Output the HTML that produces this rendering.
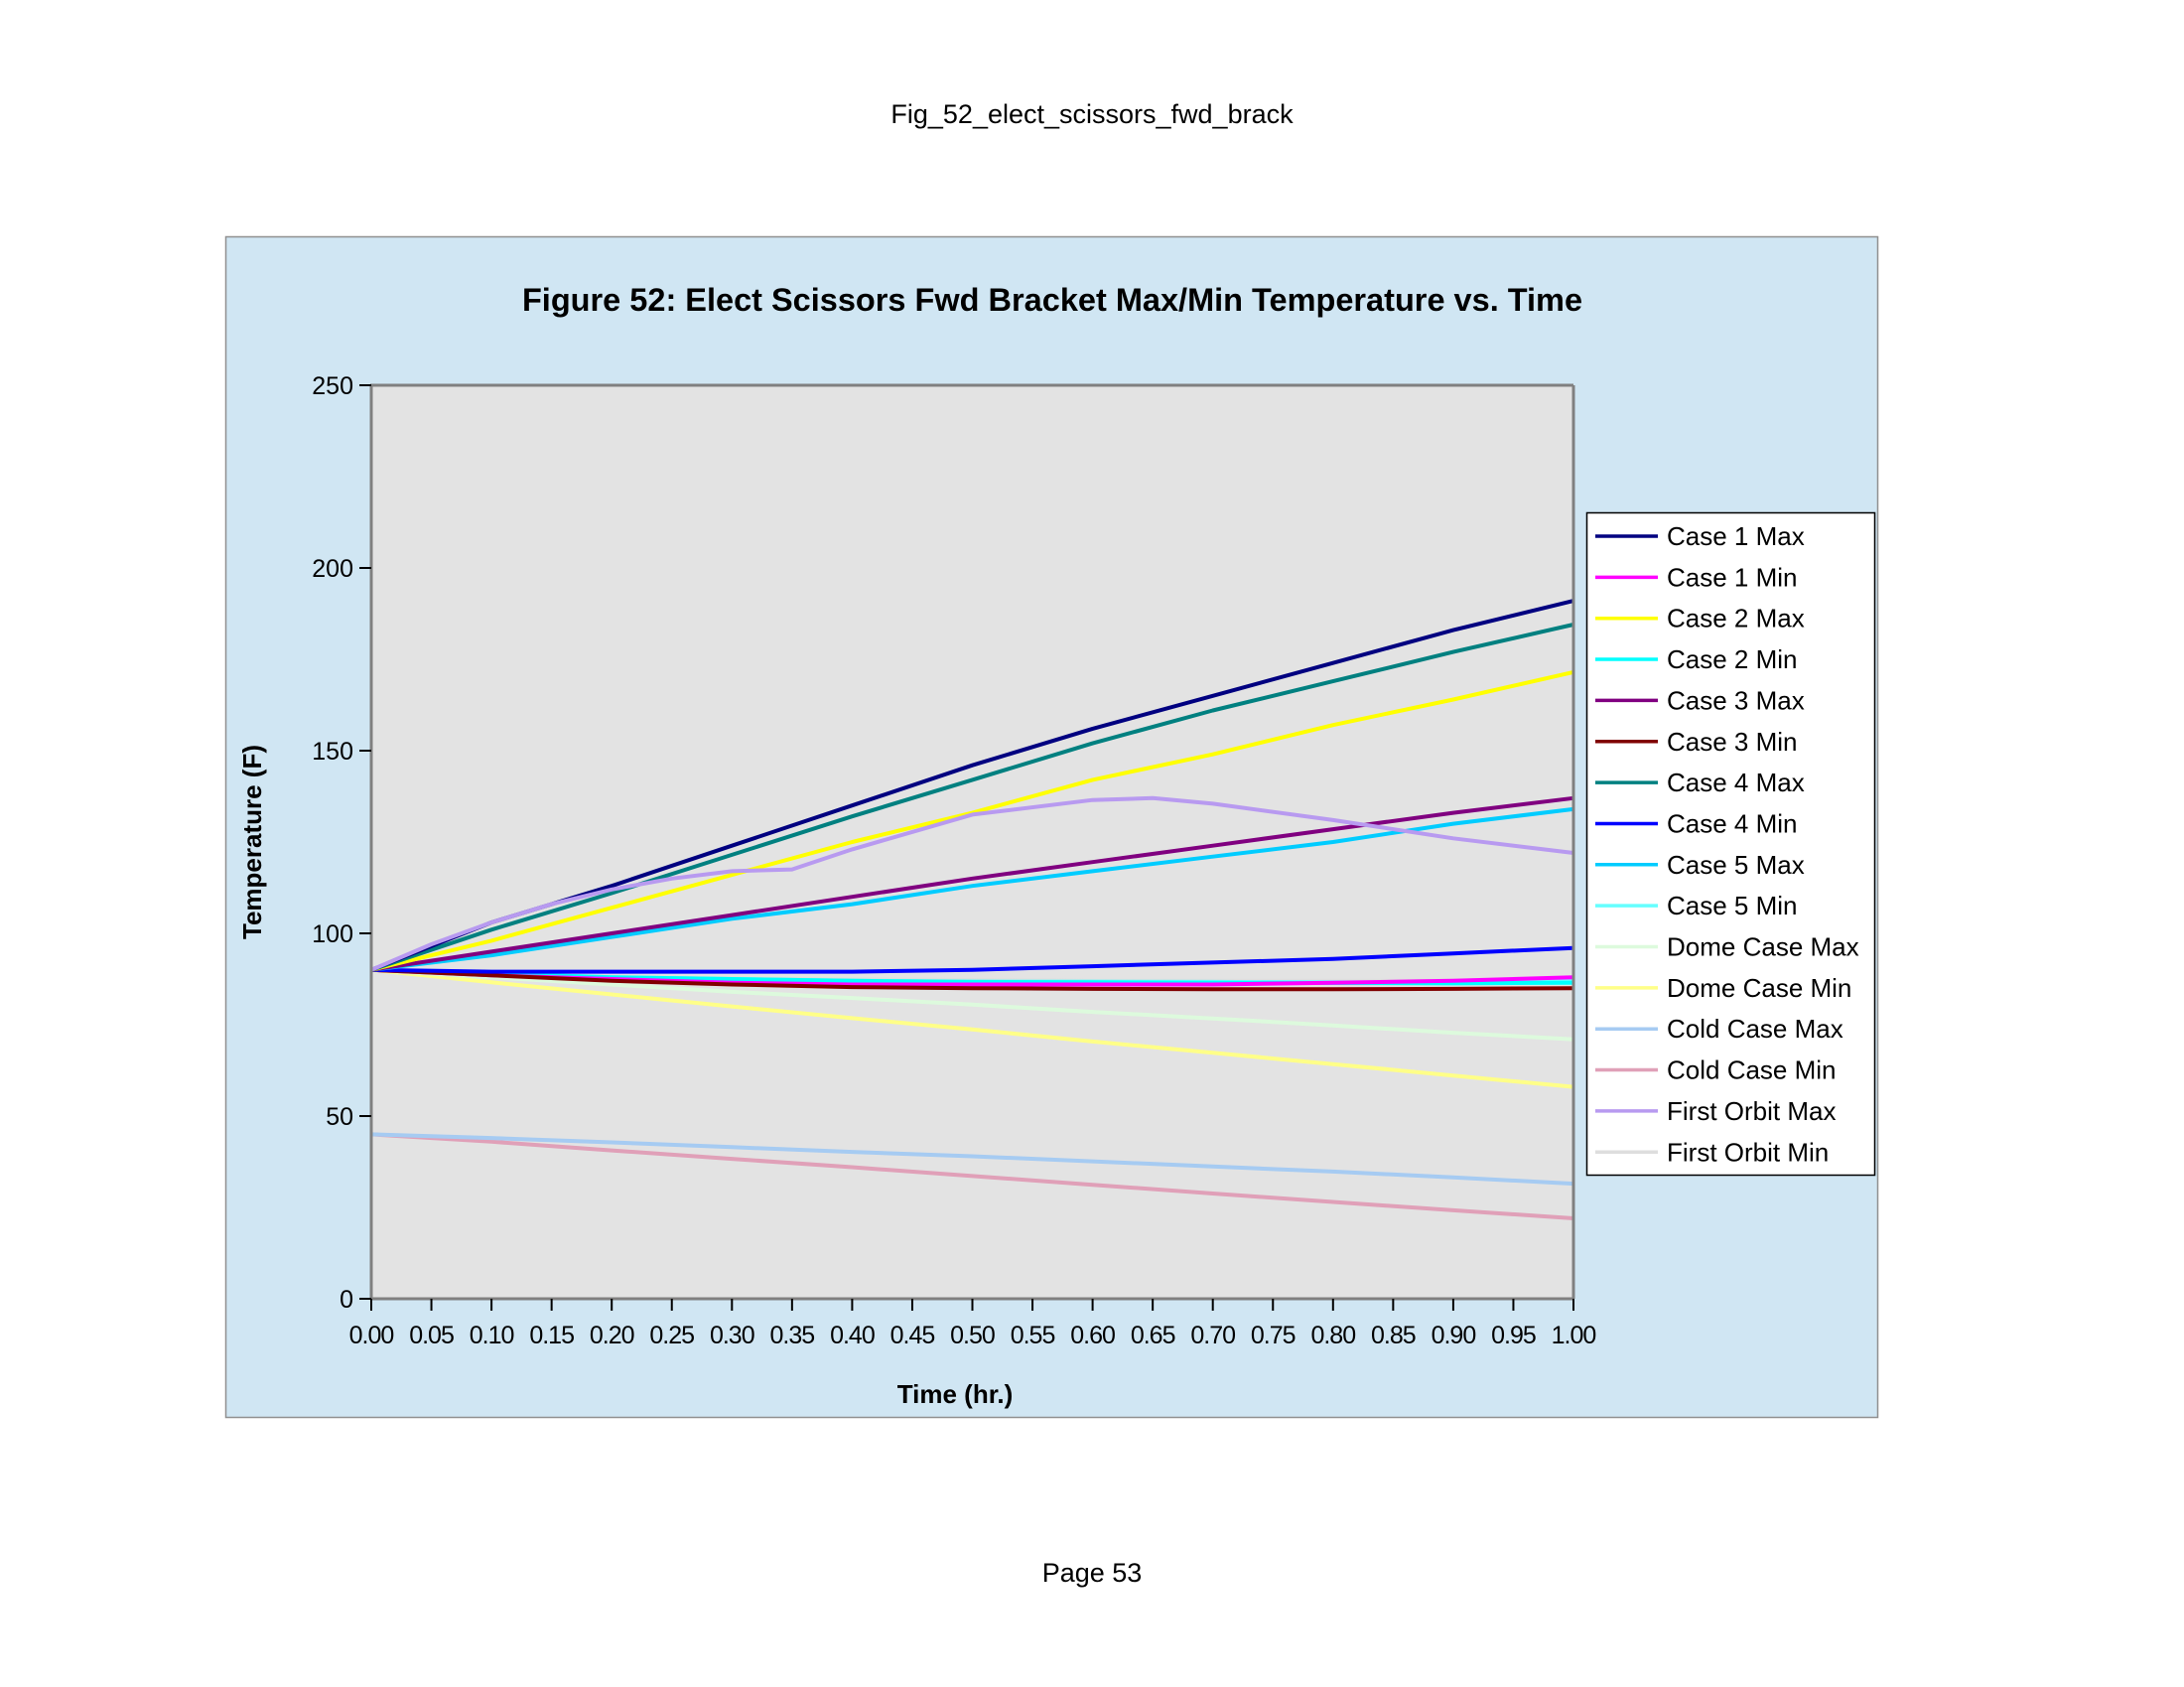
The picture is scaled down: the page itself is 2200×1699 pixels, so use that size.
<!DOCTYPE html>
<html><head><meta charset="utf-8"><style>
html,body{margin:0;padding:0;background:#fff;}
svg{display:block;font-family:"Liberation Sans",sans-serif;}
</style></head><body>
<svg id="c" width="2200" height="1699" xmlns="http://www.w3.org/2000/svg">
<text x="1100" y="124" text-anchor="middle" font-size="27">Fig_52_elect_scissors_fwd_brack</text>
<text x="1100" y="1593" text-anchor="middle" font-size="27">Page 53</text>
<rect x="227.5" y="238.5" width="1664" height="1189" fill="#d0e6f3" stroke="#909090" stroke-width="1.5"/>
<text x="1060" y="313" text-anchor="middle" font-size="32.5" font-weight="bold">Figure 52: Elect Scissors Fwd Bracket Max/Min Temperature vs. Time</text>
<rect x="373" y="388" width="1212" height="920" fill="#e3e3e3"/>
<g id="grid"></g>
<g id="series"></g>
<line x1="373" y1="388" x2="1585" y2="388" stroke="#808080" stroke-width="3"/>
<line x1="1585" y1="388" x2="1585" y2="1308" stroke="#808080" stroke-width="3"/>
<line x1="374" y1="388" x2="374" y2="1308" stroke="#808080" stroke-width="3"/>
<line x1="373" y1="1308" x2="1585" y2="1308" stroke="#808080" stroke-width="3"/>
<g id="ticks"></g>
<text x="962" y="1413" text-anchor="middle" font-size="26" font-weight="bold">Time (hr.)</text>
<text transform="translate(263,848) rotate(-90)" text-anchor="middle" font-size="26" font-weight="bold">Temperature (F)</text>
<rect x="1598.5" y="516.5" width="290" height="667" fill="#fff" stroke="#000" stroke-width="1.5"/>
<g id="legend"></g>
</svg>
<script>
const times=[0,0.1,0.2,0.3,0.4,0.5,0.6,0.7,0.8,0.9,1.0];
const orbitTimes=[0,0.05,0.1,0.15,0.2,0.25,0.3,0.35,0.4,0.5,0.6,0.65,0.7,0.8,0.9,1.0];
const yTicks=[0,50,100,150,200,250];
const xTicks=[0,0.05,0.1,0.15,0.2,0.25,0.3,0.35,0.4,0.45,0.5,0.55,0.6,0.65,0.7,0.75,0.8,0.85,0.9,0.95,1.0];
const seriesNames=["Case 1 Max","Case 1 Min","Case 2 Max","Case 2 Min","Case 3 Max","Case 3 Min","Case 4 Max","Case 4 Min","Case 5 Max","Case 5 Min","Dome Case Max","Dome Case Min","Cold Case Max","Cold Case Min","First Orbit Max","First Orbit Min"];
const seriesColors=["#000080","#ff00ff","#ffff00","#00ffff","#800080","#800000","#008080","#0000ff","#00ccff","#66ffff","#ddfadd","#ffff88","#a6cbf2","#e0a0b8","#b89af0","#dedede"];
const case1Max=[90,103,113,124,135,146,156,165,174,183,191];
const case1Min=[90,88.5,87.5,86.5,86,86,86,86,86.5,87,88];
const case2Max=[90,98,107,116,125,133,142,149,157,164,171.5];
const case2Min=[90,89,88,87.5,87,86.7,86.6,86.5,86.4,86.3,86.5];
const case3Max=[90,95,100,105,110,115,119.5,124,128.5,133,137];
const case3Min=[90,88.5,87,86,85.3,85,84.8,84.7,84.7,84.8,85];
const case4Max=[90,101,111,121.5,132,142,152,161,169,177,184.5];
const case4Min=[90,89.5,89.5,89.5,89.5,90,91,92,93,94.5,96];
const case5Max=[90,94,99,104,108,113,117,121,125,130,134];
const case5Min=[90,89,88,87.5,87,86.8,86.8,86.7,86.6,86.5,87];
const domeMax=[90,88,86,84,82.3,80.5,78.5,76.7,74.8,72.8,71];
const domeMin=[90,86.6,83.3,80,76.8,73.7,70.4,67.3,64.2,61.1,58];
const coldMax=[45,44,42.8,41.5,40.2,39,37.6,36.2,34.8,33.2,31.5];
const coldMin=[45,43,40.6,38.3,36,33.6,31.2,28.8,26.5,24.2,22];
const orbitMax=[90,97,103,108,112,115,117,117.5,123,132.5,136.5,137,135.5,131,126,122];
const orbitMin=[90,89.5,89,88.5,88,87.8,87.6,87.5,87.4,87.2,87,87,87,87,87,87];
const NS="http://www.w3.org/2000/svg";
const X0=374,X1=1585,Y0=1308,Y1=388;
function sx(t){return X0+(X1-X0)*t;}
function sy(v){return Y0-(Y0-Y1)*v/250;}
function mk(tag,attrs,parent){const e=document.createElementNS(NS,tag);for(const k in attrs)e.setAttribute(k,attrs[k]);parent.appendChild(e);return e;}
const ticks=document.getElementById('ticks');
yTicks.forEach(v=>{
  const l=mk('line',{x1:X0-12,x2:X0,y1:sy(v),y2:sy(v),stroke:'#000','stroke-width':2},ticks);
  
  
  const t=mk('text',{x:X0-18,y:sy(v)+9,'text-anchor':'end','font-size':25},ticks);
  t.textContent=v;
  
  
});
xTicks.forEach(v=>{
  const l=mk('line',{x1:sx(v),x2:sx(v),y1:Y0,y2:Y0+12,stroke:'#000','stroke-width':2},ticks);
  
  
  const t=mk('text',{x:sx(v),y:Y0+45,'text-anchor':'middle','font-size':25,'letter-spacing':'-1'},ticks);
  t.textContent=v.toFixed(2);
  
  
});
const allData=[case1Max,case1Min,case2Max,case2Min,case3Max,case3Min,case4Max,case4Min,case5Max,case5Min,domeMax,domeMin,coldMax,coldMin,orbitMax,orbitMin];
const sg=document.getElementById('series');
const order=[15,13,12,11,10,9,3,1,5,7,8,4,2,6,0,14];
order.forEach(i=>{
  const ts=(i>=14)?orbitTimes:times;
  const pts=allData[i].map((v,j)=>sx(ts[j]).toFixed(1)+','+sy(v).toFixed(1)).join(' ');
  const p=mk('polyline',{points:pts,fill:'none',stroke:seriesColors[i],'stroke-width':4,'stroke-linejoin':'round'},sg);
  
  
});
const lg=document.getElementById('legend');
seriesNames.forEach((n,i)=>{
  const y=540+41.35*i;
  const g=mk('g',{},lg);
  
  
  mk('line',{x1:1607,x2:1670,y1:y,y2:y,stroke:seriesColors[i],'stroke-width':3.5},g);
  const t=mk('text',{x:1679,y:y+9,'font-size':26},g);
  t.textContent=n;
});
</script>
</body></html>
